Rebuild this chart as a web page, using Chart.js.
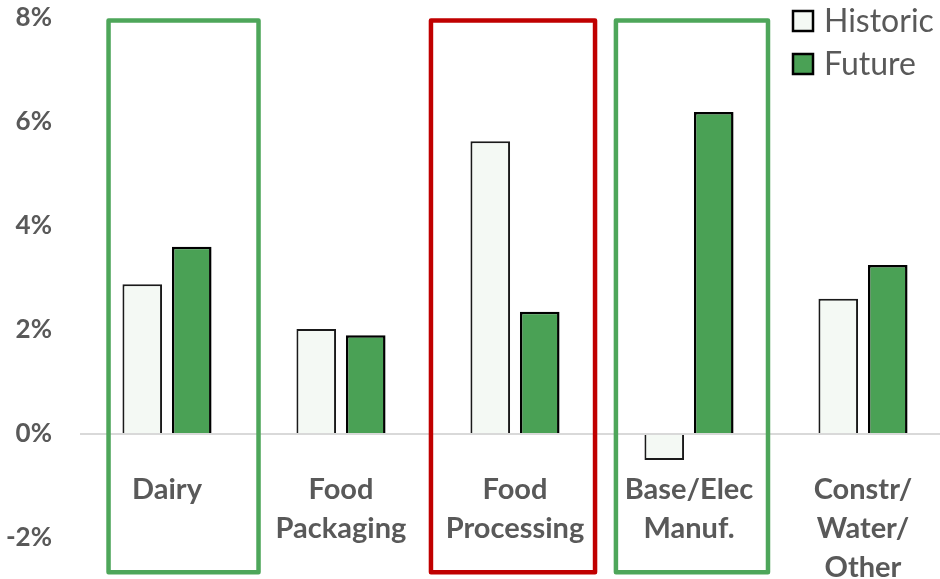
<!DOCTYPE html>
<html>
<head>
<meta charset="utf-8">
<script src="https://cdn.jsdelivr.net/npm/chart.js@4.4.1/dist/chart.umd.min.js"></script>
<style>
  html, body { margin: 0; padding: 0; background: #fff; overflow: hidden; }
  #frame { width: 940px; height: 579px; overflow: hidden; }
  #wrap { width: 950px; height: 579px; position: relative; }
</style>
</head>
<body>
<div id="frame"><div id="wrap"><canvas id="growth"></canvas></div></div>
<script>
const categories = [['Dairy'], ['Food', 'Packaging'], ['Food', 'Processing'], ['Base/Elec', 'Manuf.'], ['Constr/', 'Water/', 'Other']];
const historic = [2.88, 2.02, 5.63, -0.5, 2.6];
const future = [3.6, 1.9, 2.35, 6.19, 3.25];
const yTicks = [-2, 0, 2, 4, 6, 8];
const goodSectors = [0, 3];
const badSectors = [2];

const GREY = '#595959';
const FONT = 'Lato, "Open Sans", sans-serif';

// frames around sectors, offsets in category units
const frameShape = {
  0: { from: -0.336, to: 0.526 },
  2: { from: -0.483, to: 0.46 },
  3: { from: -0.42, to: 0.454 }
};

const sectorFrames = {
  id: 'sectorFrames',
  afterDatasetsDraw(chart) {
    const { ctx, scales: { x, y } } = chart;
    const top = y.getPixelForValue(7.95);
    const bottom = y.getPixelForValue(-2.66);
    const step = x.getPixelForValue(1) - x.getPixelForValue(0);
    const draw = (i, color) => {
      const c = x.getPixelForValue(i);
      const l = c + frameShape[i].from * step;
      const r = c + frameShape[i].to * step;
      ctx.save();
      ctx.strokeStyle = color;
      ctx.lineWidth = 4.5;
      ctx.lineJoin = 'round';
      ctx.strokeRect(l, top, r - l, bottom - top);
      ctx.restore();
    };
    goodSectors.forEach(i => draw(i, '#4ea65a'));
    badSectors.forEach(i => draw(i, '#c00000'));
  }
};

// category names sit inside the plot, under the zero line
const sectorNames = {
  id: 'sectorNames',
  afterDatasetsDraw(chart) {
    const { ctx, scales: { x, y } } = chart;
    const base = y.getPixelForValue(0) + 65;
    ctx.save();
    ctx.font = 'bold 29px ' + FONT;
    ctx.fillStyle = GREY;
    ctx.textAlign = 'center';
    ctx.textBaseline = 'alphabetic';
    chart.data.labels.forEach((lines, i) => {
      const cx = x.getPixelForValue(i);
      lines.forEach((t, k) => ctx.fillText(t, cx, base + k * 39));
    });
    ctx.restore();
  }
};

const cornerLegend = {
  id: 'cornerLegend',
  afterDraw(chart) {
    const { ctx } = chart;
    ctx.save();
    ctx.font = '32px ' + FONT;
    ctx.textBaseline = 'middle';
    chart.data.datasets.forEach((ds, i) => {
      const top = 10 + i * 43;
      ctx.fillStyle = ds.backgroundColor;
      ctx.fillRect(792, top, 22, 22);
      ctx.strokeStyle = '#000';
      ctx.lineWidth = 2.5;
      ctx.strokeRect(793, top + 1, 20, 20);
      ctx.fillStyle = GREY;
      ctx.fillText(ds.label, 824, top + 12);
    });
    ctx.restore();
  }
};

new Chart(document.getElementById('growth'), {
  type: 'bar',
  data: {
    labels: categories,
    datasets: [
      { label: 'Historic', data: historic, backgroundColor: '#f4f9f4', borderColor: '#1a1a1a', borderWidth: 2 },
      { label: 'Future', data: future, backgroundColor: '#4aa155', borderColor: '#000', borderWidth: 2.5 }
    ]
  },
  options: {
    responsive: true,
    maintainAspectRatio: false,
    animation: false,
    categoryPercentage: 0.569,
    barPercentage: 0.8,
    layout: { padding: { top: 18, right: 0, bottom: 2, left: 0 } },
    plugins: { legend: { display: false }, tooltip: { enabled: false } },
    scales: {
      x: { display: false },
      y: {
        min: -2.75,
        max: 8,
        afterFit(scale) {
          scale.width = 80;
          // labels may overhang the plot edges
          scale.paddingTop = 0;
          scale.paddingBottom = 0;
        },
        afterBuildTicks(scale) { scale.ticks = yTicks.map(v => ({ value: v })); },
        border: { display: false },
        grid: {
          drawTicks: true,
          tickLength: 26,
          tickColor: 'rgba(0,0,0,0)',
          lineWidth: 2,
          color: c => (c.tick && c.tick.value === 0 ? '#d9d9d9' : 'rgba(0,0,0,0)')
        },
        ticks: {
          padding: 2,
          color: GREY,
          font: { family: FONT, size: 26, weight: 'bold' },
          callback: v => v + '%'
        }
      }
    }
  },
  plugins: [sectorFrames, sectorNames, cornerLegend]
});
</script>
</body>
</html>
